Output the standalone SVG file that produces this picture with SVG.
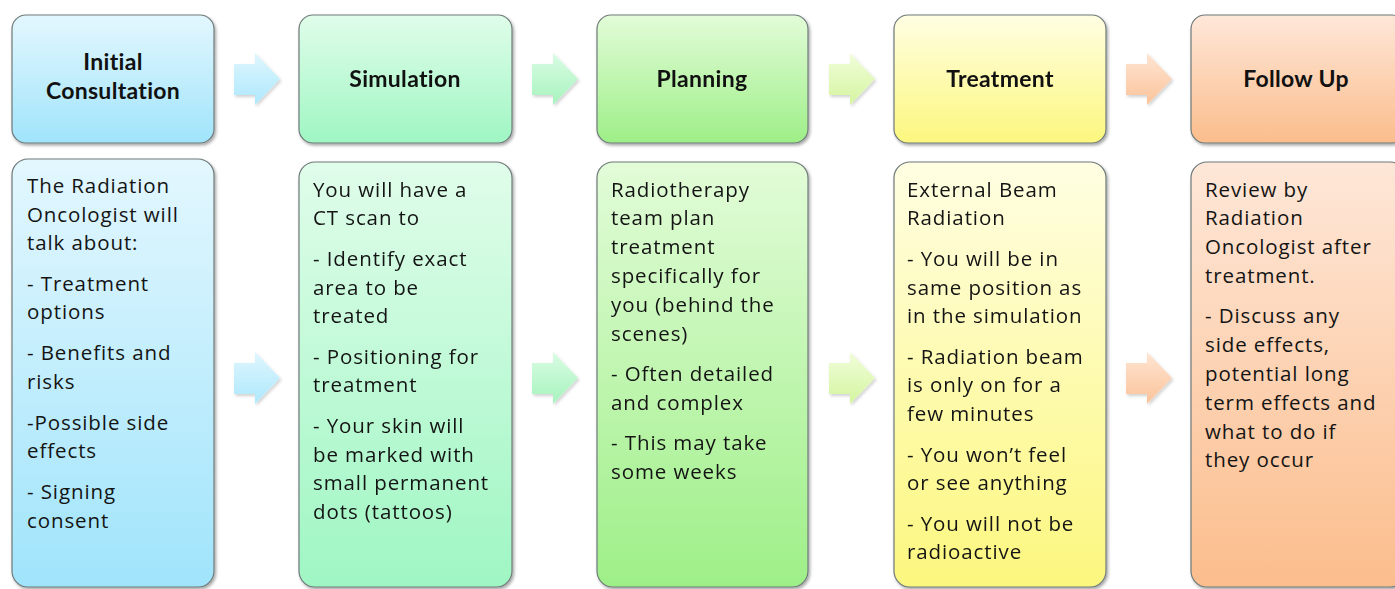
<svg xmlns="http://www.w3.org/2000/svg" xmlns:xlink="http://www.w3.org/1999/xlink" width="1395" height="589" viewBox="0 0 1395 589">
<defs>
<style>
.box{stroke:#6f7a7a;stroke-width:1.2}
.hd{font-family:Lato,"Liberation Sans",sans-serif;font-weight:bold;font-size:23px;letter-spacing:0.3px;fill:#111;text-anchor:middle}
.bd{font-family:"Open Sans","Liberation Sans",sans-serif;font-size:20.5px;letter-spacing:0.9px;fill:#141414}
</style>
<filter id="sh" x="-10%" y="-10%" width="130%" height="130%">
<feDropShadow dx="1.5" dy="2" stdDeviation="1.8" flood-color="#000" flood-opacity="0.35"/>
</filter>
<filter id="ash" x="-20%" y="-20%" width="150%" height="150%">
<feDropShadow dx="1.5" dy="2" stdDeviation="1.5" flood-color="#000" flood-opacity="0.18"/>
</filter>
<linearGradient id="g1" x1="0" y1="0" x2="0" y2="1"><stop offset="0" stop-color="#e3f7fe"/><stop offset="1" stop-color="#a0e4fb"/></linearGradient>
<linearGradient id="g2" x1="0" y1="0" x2="0" y2="1"><stop offset="0" stop-color="#e0fdea"/><stop offset="1" stop-color="#9ff6c3"/></linearGradient>
<linearGradient id="g3" x1="0" y1="0" x2="0" y2="1"><stop offset="0" stop-color="#e2fcd8"/><stop offset="1" stop-color="#9eef88"/></linearGradient>
<linearGradient id="g4" x1="0" y1="0" x2="0" y2="1"><stop offset="0" stop-color="#fffee2"/><stop offset="1" stop-color="#fcf77e"/></linearGradient>
<linearGradient id="g5" x1="0" y1="0" x2="0" y2="1"><stop offset="0" stop-color="#fee7d8"/><stop offset="1" stop-color="#fbbd8c"/></linearGradient>
<linearGradient id="a1" x1="0" y1="0" x2="0" y2="1"><stop offset="0" stop-color="#dff6fe"/><stop offset="1" stop-color="#ade8fc"/></linearGradient>
<linearGradient id="a2" x1="0" y1="0" x2="0" y2="1"><stop offset="0" stop-color="#dafce4"/><stop offset="1" stop-color="#a6f3bd"/></linearGradient>
<linearGradient id="a3" x1="0" y1="0" x2="0" y2="1"><stop offset="0" stop-color="#f1fddb"/><stop offset="1" stop-color="#d4f59f"/></linearGradient>
<linearGradient id="a4" x1="0" y1="0" x2="0" y2="1"><stop offset="0" stop-color="#fee5d3"/><stop offset="1" stop-color="#fbc39a"/></linearGradient>
<path id="arr" d="M0,11 H21 V0 L46,26 L21,52 V42 H0 Z"/>
</defs>
<rect width="1395" height="589" fill="#ffffff"/>

<g id="connectors" filter="url(#ash)">
<use xlink:href="#arr" href="#arr" x="234" y="53" fill="url(#a1)"/>
<use xlink:href="#arr" href="#arr" x="532" y="53" fill="url(#a2)"/>
<use xlink:href="#arr" href="#arr" x="829" y="53" fill="url(#a3)"/>
<use xlink:href="#arr" href="#arr" x="1126" y="53" fill="url(#a4)"/>
<use xlink:href="#arr" href="#arr" x="234" y="352" fill="url(#a1)"/>
<use xlink:href="#arr" href="#arr" x="532" y="352" fill="url(#a2)"/>
<use xlink:href="#arr" href="#arr" x="829" y="352" fill="url(#a3)"/>
<use xlink:href="#arr" href="#arr" x="1126" y="352" fill="url(#a4)"/>
</g>

<g id="head-consultation">
<rect class="box" x="12" y="15" width="202" height="128" rx="14" fill="url(#g1)" filter="url(#sh)"/>
<text class="hd" x="113" y="70">Initial</text>
<text class="hd" x="113" y="99">Consultation</text>
</g>
<g id="head-simulation">
<rect class="box" x="299" y="15" width="213" height="128" rx="14" fill="url(#g2)" filter="url(#sh)"/>
<text class="hd" x="405" y="87">Simulation</text>
</g>
<g id="head-planning">
<rect class="box" x="597" y="15" width="211" height="128" rx="14" fill="url(#g3)" filter="url(#sh)"/>
<text class="hd" x="702" y="87">Planning</text>
</g>
<g id="head-treatment">
<rect class="box" x="894" y="15" width="212" height="128" rx="14" fill="url(#g4)" filter="url(#sh)"/>
<text class="hd" x="1000" y="87">Treatment</text>
</g>
<g id="head-followup">
<rect class="box" x="1191" y="15" width="215" height="128" rx="14" fill="url(#g5)" filter="url(#sh)"/>
<text class="hd" x="1296" y="87">Follow Up</text>
</g>

<g id="body-consultation">
<rect class="box" x="12" y="159" width="202" height="428" rx="16" fill="url(#g1)" filter="url(#sh)"/>
<text class="bd" x="27" y="193">The Radiation</text>
<text class="bd" x="27" y="222">Oncologist  will</text>
<text class="bd" x="27" y="250">talk about:</text>
<text class="bd" x="27" y="291">- Treatment</text>
<text class="bd" x="27" y="319">options</text>
<text class="bd" x="27" y="360">- Benefits and</text>
<text class="bd" x="27" y="389">risks</text>
<text class="bd" x="27" y="430"> -Possible  side</text>
<text class="bd" x="27" y="458">effects</text>
<text class="bd" x="27" y="499">- Signing</text>
<text class="bd" x="27" y="528">consent</text>
</g>

<g id="body-simulation">
<rect class="box" x="299" y="162" width="213" height="425" rx="16" fill="url(#g2)" filter="url(#sh)"/>
<text class="bd" x="313" y="197">You will have a</text>
<text class="bd" x="313" y="225">CT scan to</text>
<text class="bd" x="313" y="266">- Identify exact</text>
<text class="bd" x="313" y="295">area to be</text>
<text class="bd" x="313" y="323">treated</text>
<text class="bd" x="313" y="364">- Positioning  for</text>
<text class="bd" x="313" y="392">treatment</text>
<text class="bd" x="313" y="433">- Your skin will</text>
<text class="bd" x="313" y="462">be marked with</text>
<text class="bd" x="313" y="490">small permanent</text>
<text class="bd" x="313" y="519">dots (tattoos)</text>
</g>

<g id="body-planning">
<rect class="box" x="597" y="162" width="211" height="425" rx="16" fill="url(#g3)" filter="url(#sh)"/>
<text class="bd" x="611" y="197">Radiotherapy</text>
<text class="bd" x="611" y="225">team plan</text>
<text class="bd" x="611" y="254">treatment</text>
<text class="bd" x="611" y="283">specifically for</text>
<text class="bd" x="611" y="312">you (behind  the</text>
<text class="bd" x="611" y="341">scenes)</text>
<text class="bd" x="611" y="381">- Often detailed</text>
<text class="bd" x="611" y="410">and complex</text>
<text class="bd" x="611" y="450">- This may take</text>
<text class="bd" x="611" y="479">some weeks</text>
</g>

<g id="body-treatment">
<rect class="box" x="894" y="162" width="212" height="425" rx="16" fill="url(#g4)" filter="url(#sh)"/>
<text class="bd" x="907" y="197">External Beam</text>
<text class="bd" x="907" y="225">Radiation</text>
<text class="bd" x="907" y="266">- You will be in</text>
<text class="bd" x="907" y="295">same position  as</text>
<text class="bd" x="907" y="323">in the simulation</text>
<text class="bd" x="907" y="364">- Radiation beam</text>
<text class="bd" x="907" y="392">is only on for a</text>
<text class="bd" x="907" y="421">few minutes</text>
<text class="bd" x="907" y="462">- You won’t feel</text>
<text class="bd" x="907" y="490">or see anything</text>
<text class="bd" x="907" y="531">- You will not be</text>
<text class="bd" x="907" y="559">radioactive</text>
</g>

<g id="body-followup">
<rect class="box" x="1191" y="162" width="215" height="425" rx="16" fill="url(#g5)" filter="url(#sh)"/>
<text class="bd" x="1205" y="197">Review by</text>
<text class="bd" x="1205" y="225">Radiation</text>
<text class="bd" x="1205" y="254">Oncologist  after</text>
<text class="bd" x="1205" y="283">treatment.</text>
<text class="bd" x="1205" y="323">- Discuss any</text>
<text class="bd" x="1205" y="352">side effects,</text>
<text class="bd" x="1205" y="381">potential long</text>
<text class="bd" x="1205" y="410">term effects and</text>
<text class="bd" x="1205" y="439">what to do if</text>
<text class="bd" x="1205" y="467">they occur</text>
</g>
</svg>
